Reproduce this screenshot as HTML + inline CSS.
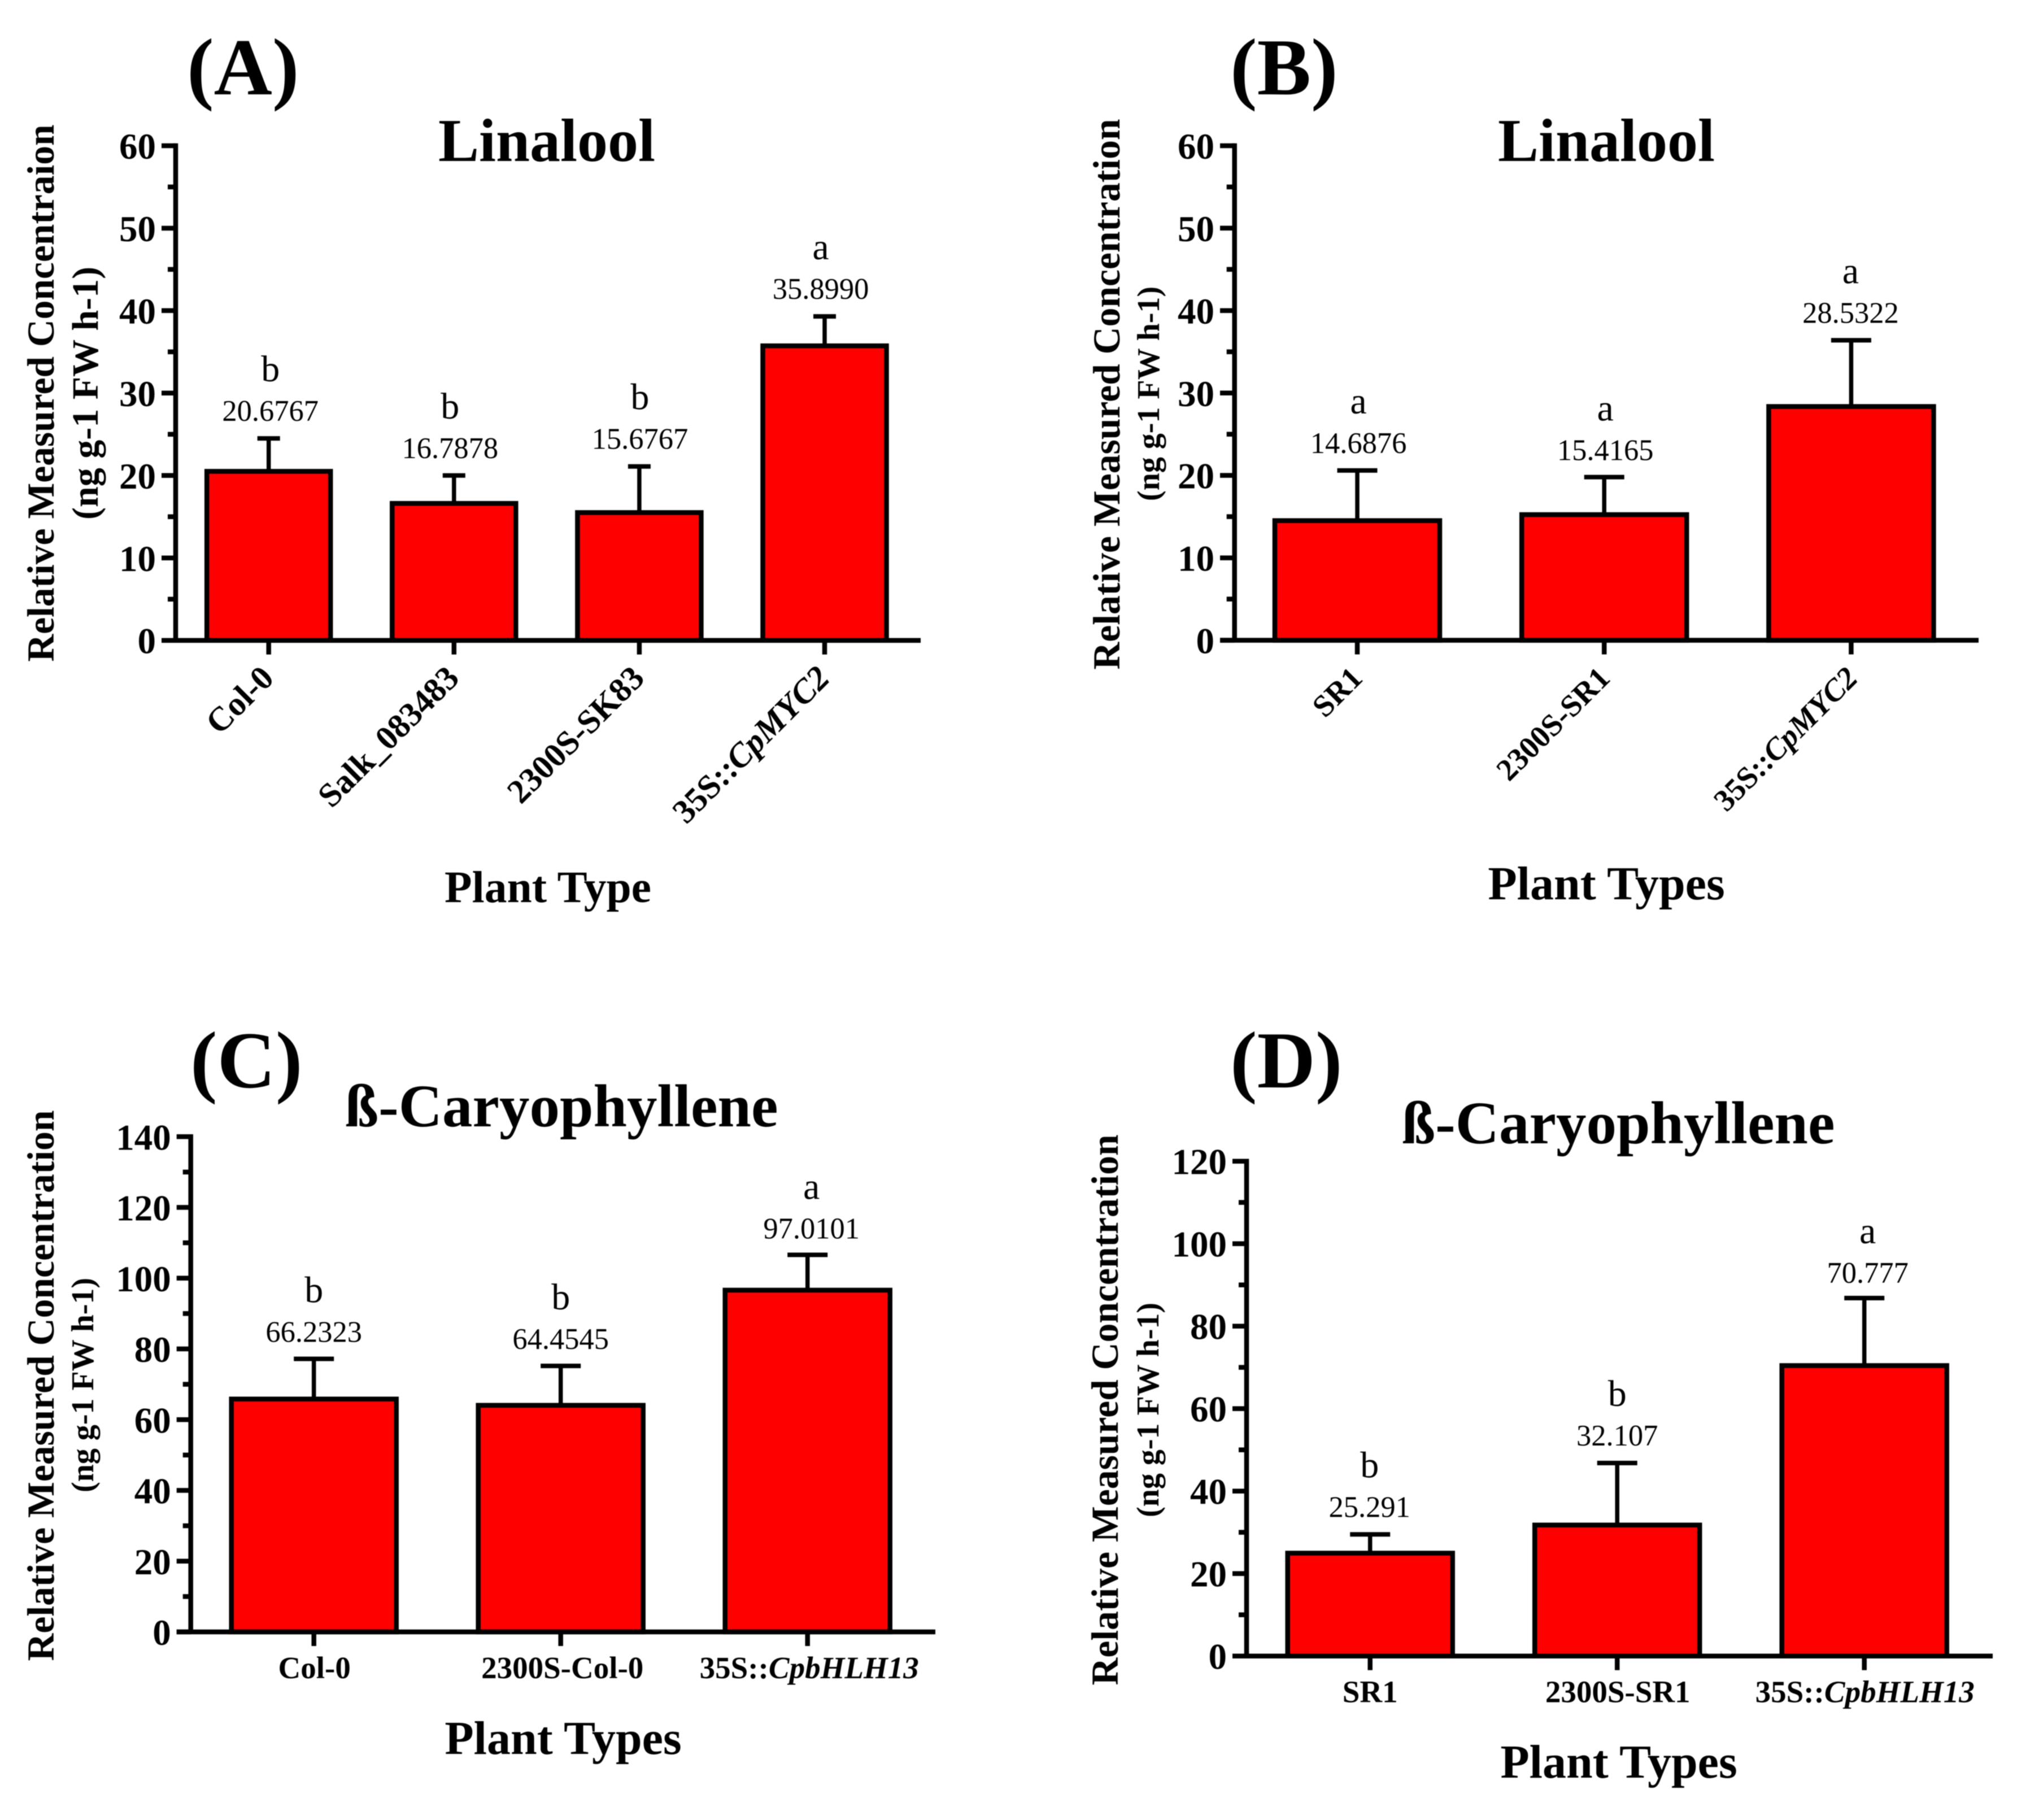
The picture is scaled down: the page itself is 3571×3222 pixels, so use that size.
<!DOCTYPE html>
<html lang="en">
<head>
<meta charset="utf-8">
<title>Relative measured concentration of linalool and beta-caryophyllene</title>
<style>
html,body{margin:0;padding:0;background:#fff;width:3571px;height:3222px;overflow:hidden}
svg{display:block;filter:blur(0.9px)}
text{font-family:"Liberation Serif",serif;fill:#000}
.b{font-weight:bold}
</style>
</head>
<body>
<svg id="fig" xmlns="http://www.w3.org/2000/svg" width="3571" height="3222" viewBox="0 0 3571 3222">
<rect x="0" y="0" width="3571" height="3222" fill="#fff"/>

<g>
<text class="b" x="331" y="167" font-size="143">(A)</text>
<text class="b" x="968" y="285" font-size="108" text-anchor="middle">Linalool</text>
<text class="b" x="970" y="1597" font-size="79.5" text-anchor="middle">Plant Type</text>
<text class="b" transform="translate(95 696) rotate(-90)" font-size="67.5" text-anchor="middle">Relative Measured Concentraion</text>
<text class="b" transform="translate(173 696) rotate(-90)" font-size="66" text-anchor="middle">(ng g-1 FW h-1)</text>
</g>

<g>
<text class="b" x="2178" y="167" font-size="143">(B)</text>
<text class="b" x="2844" y="285" font-size="108" text-anchor="middle">Linalool</text>
<text class="b" x="2844" y="1592" font-size="84" text-anchor="middle">Plant Types</text>
<text class="b" transform="translate(1982 698) rotate(-90)" font-size="67.6" text-anchor="middle">Relative Measured Concentration</text>
<text class="b" transform="translate(2052 697) rotate(-90)" font-size="56" text-anchor="middle">(ng g-1 FW h-1)</text>
</g>

<g>
<text class="b" x="337" y="1925" font-size="143">(C)</text>
<text class="b" x="994" y="1994" font-size="107" text-anchor="middle">ß-Caryophyllene</text>
<text class="b" x="997" y="3105" font-size="84" text-anchor="middle">Plant Types</text>
<text class="b" transform="translate(95 2453) rotate(-90)" font-size="67.6" text-anchor="middle">Relative Measured Concentration</text>
<text class="b" transform="translate(165 2452) rotate(-90)" font-size="56" text-anchor="middle">(ng g-1 FW h-1)</text>
</g>

<g>
<text class="b" x="2178" y="1925" font-size="143">(D)</text>
<text class="b" x="2865" y="2024" font-size="107" text-anchor="middle">ß-Caryophyllene</text>
<text class="b" x="2866" y="3147" font-size="84" text-anchor="middle">Plant Types</text>
<text class="b" transform="translate(1979 2496) rotate(-90)" font-size="67.6" text-anchor="middle">Relative Measured Concentration</text>
<text class="b" transform="translate(2051 2496) rotate(-90)" font-size="56" text-anchor="middle">(ng g-1 FW h-1)</text>
</g>
</svg>

<script>
// Panel A data
const categoriesA = ['Col-0', 'Salk_083483', '2300S-SK83', '35S::CpMYC2'];
const valuesA = [20.6767, 16.7878, 15.6767, 35.899];
const errorTopsA = [24.5, 20.0, 21.1, 39.3];
const printedA = ['20.6767', '16.7878', '15.6767', '35.8990'];
const lettersA = ['b', 'b', 'b', 'a'];
const yTicksA = [0, 10, 20, 30, 40, 50, 60];

// Panel B data
const categoriesB = ['SR1', '2300S-SR1', '35S::CpMYC2'];
const valuesB = [14.6876, 15.4165, 28.5322];
const errorTopsB = [20.6, 19.8, 36.4];
const printedB = ['14.6876', '15.4165', '28.5322'];
const lettersB = ['a', 'a', 'a'];
const yTicksB = [0, 10, 20, 30, 40, 50, 60];

// Panel C data
const categoriesC = ['Col-0', '2300S-Col-0', '35S::CpbHLH13'];
const valuesC = [66.2323, 64.4545, 97.0101];
const errorTopsC = [77.2, 75.2, 106.6];
const printedC = ['66.2323', '64.4545', '97.0101'];
const lettersC = ['b', 'b', 'a'];
const yTicksC = [0, 20, 40, 60, 80, 100, 120, 140];

// Panel D data
const categoriesD = ['SR1', '2300S-SR1', '35S::CpbHLH13'];
const valuesD = [25.291, 32.107, 70.777];
const errorTopsD = [29.5, 46.8, 86.8];
const printedD = ['25.291', '32.107', '70.777'];
const lettersD = ['b', 'b', 'a'];
const yTicksD = [0, 20, 40, 60, 80, 100, 120];

const NS = 'http://www.w3.org/2000/svg';
const fig = document.getElementById('fig');

function shape(tag, attrs, parent) {
  const el = document.createElementNS(NS, tag);
  for (const k in attrs) el.setAttribute(k, attrs[k]);
  parent.appendChild(el);
  return el;
}

function drawPanel(layout, categories, values, errorTops, printed, letters, yTicks) {
  const g = shape('g', {}, fig);
  
  

  const yMax = yTicks[yTicks.length - 1];
  const yScale = v => layout.y0 - (v / yMax) * (layout.y0 - layout.yTop);
  const xScale = i => layout.c0 + i * layout.step;
  const LW = 8.5;

  // bars + error bars
  categories.forEach((cat, i) => {
    const cx = xScale(i);
    const top = yScale(values[i]) + 2.5;
    const errY = yScale(errorTops[i]);
    const labelX = cx + layout.labelDx[i];
    const labelY = errY + layout.labelDy[i];
    const catX = cx + layout.catDx[i];

    const stem = shape('line', {x1: cx, x2: cx, y1: top, y2: errY, stroke: '#000', 'stroke-width': 7.5}, g);
    
    

    const cap = shape('line', {x1: cx - layout.capW / 2, x2: cx + layout.capW / 2, y1: errY, y2: errY, stroke: '#000', 'stroke-width': 8}, g);
    
    

    const bar = shape('rect', {x: cx - layout.barW / 2, y: top, width: layout.barW, height: layout.y0 - top, fill: '#ff0000', stroke: '#000', 'stroke-width': LW}, g);
    
    

    const val = shape('text', {x: labelX, y: labelY - 31, 'font-size': 52.5, 'text-anchor': 'middle'}, g);
    val.textContent = printed[i];
    
    

    const letter = shape('text', {x: labelX, y: labelY - 101, 'font-size': 66, 'text-anchor': 'middle'}, g);
    letter.textContent = letters[i];
    
    

    const tick = shape('line', {x1: cx, x2: cx, y1: layout.y0, y2: layout.y0 + 25, stroke: '#000', 'stroke-width': LW}, g);
    
    

    const parts = cat.match(/^(.*?::)?(.*)$/);
    const label = shape('text', layout.rotated
      ? {transform: 'translate(' + (catX + 12) + ' ' + (layout.y0 + 70) + ') rotate(-45)', 'font-size': layout.catFont, 'text-anchor': 'end', 'font-weight': 'bold'}
      : {x: catX, y: layout.y0 + layout.catDy, 'font-size': layout.catFont, 'text-anchor': 'middle', 'font-weight': 'bold'}, g);
    
    
    if (parts[1]) {
      const plain = shape('tspan', {}, label);
      plain.textContent = parts[1];
      const ital = shape('tspan', {'font-style': 'italic', 'font-weight': 'bold'}, label);
      ital.textContent = parts[2];
    } else {
      label.textContent = cat;
    }
  });

  // y ticks (major from array, minor halfway between them)
  yTicks.forEach((t, i) => {
    const y = yScale(t);
    const tick = shape('line', {x1: layout.tickLeft, x2: layout.x0, y1: y, y2: y, stroke: '#000', 'stroke-width': LW}, g);
    
    

    const lab = shape('text', {x: layout.tickLeft - 10, y: y + 23, 'font-size': 65, 'font-weight': 'bold', 'text-anchor': 'end'}, g);
    lab.textContent = t;
    
    

    if (i < yTicks.length - 1) {
      const my = yScale((t + yTicks[i + 1]) / 2);
      const minor = shape('line', {x1: layout.x0 - 14, x2: layout.x0, y1: my, y2: my, stroke: '#000', 'stroke-width': LW}, g);
      
      
    }
  });

  // axes
  const yAxis = shape('line', {x1: layout.x0, x2: layout.x0, y1: layout.yTop - LW / 2, y2: layout.y0, stroke: '#000', 'stroke-width': LW}, g);
  
  

  const xAxis = shape('line', {x1: layout.tickLeft, x2: layout.xEnd, y1: layout.y0, y2: layout.y0, stroke: '#000', 'stroke-width': LW}, g);
  
  
}

drawPanel({x0: 311, tickLeft: 286, xEnd: 1630, y0: 1133.7, yTop: 258, c0: 475.7, step: 328.1, barW: 219, capW: 40, rotated: true, catFont: 60, labelDx: [3, -7, 1, -7], labelDy: [0, 0, 0, 0], catDx: [0, 0, 0, 0]},
  categoriesA, valuesA, errorTopsA, printedA, lettersA, yTicksA);
drawPanel({x0: 2185.7, tickLeft: 2160, xEnd: 3503, y0: 1133.5, yTop: 258, c0: 2403, step: 437.2, barW: 292, capW: 71, rotated: true, catFont: 55, labelDx: [2, 2, -1], labelDy: [0, 1, 0], catDx: [0, 1, 2.6]},
  categoriesB, valuesB, errorTopsB, printedB, lettersB, yTicksB);
drawPanel({x0: 337.7, tickLeft: 312.7, xEnd: 1656, y0: 2889, yTop: 2012.3, c0: 555.7, step: 437, barW: 292, capW: 71, rotated: false, catFont: 55, catDy: 82, labelDx: [0, 0, 7], labelDy: [1, 1, 2], catDx: [1, 3, 3]},
  categoriesC, valuesC, errorTopsC, printedC, lettersC, yTicksC);
drawPanel({x0: 2207, tickLeft: 2182, xEnd: 3528, y0: 2931.7, yTop: 2055.7, c0: 2425.7, step: 437.5, barW: 292, capW: 71, rotated: false, catFont: 55, catDy: 82, labelDx: [-1, 0, 6], labelDy: [0, 0, 4], catDx: [0, 1, 1]},
  categoriesD, valuesD, errorTopsD, printedD, lettersD, yTicksD);
</script>
</body>
</html>
